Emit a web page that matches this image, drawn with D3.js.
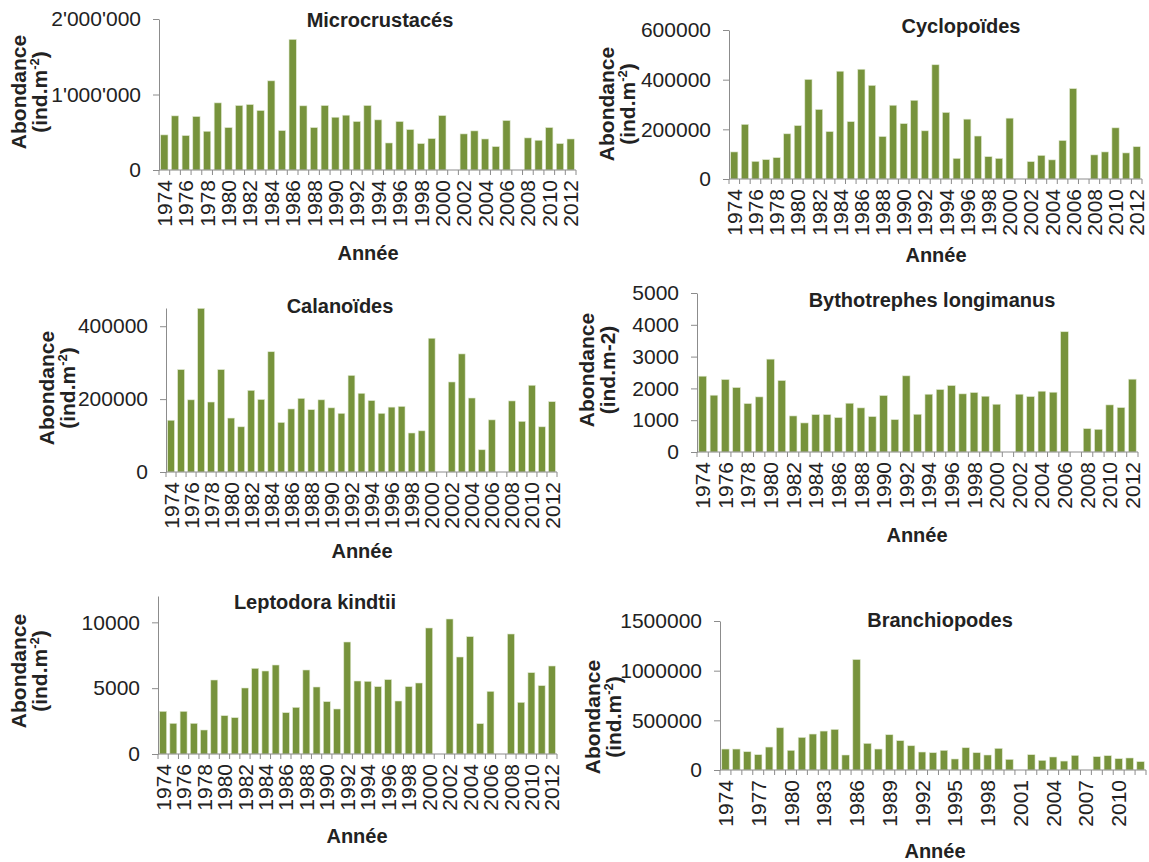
<!DOCTYPE html>
<html>
<head>
<meta charset="utf-8">
<script src="https://cdn.jsdelivr.net/npm/d3@7/dist/d3.min.js"></script>
<style>
  body { margin: 0; background: #fff; }
  svg text { font-family: "Liberation Sans", Arial, sans-serif; fill: #222; }
</style>
</head>
<body>
<svg id="fig" width="1149" height="862"></svg>
<script>
// Years of the series (2001 and 2007 have no sample)
const years = [1974, 1975, 1976, 1977, 1978, 1979, 1980, 1981, 1982, 1983,
               1984, 1985, 1986, 1987, 1988, 1989, 1990, 1991, 1992, 1993,
               1994, 1995, 1996, 1997, 1998, 1999, 2000, 2001, 2002, 2003,
               2004, 2005, 2006, 2007, 2008, 2009, 2010, 2011, 2012];

// Abundance, ind. per m2
const microcrustaces = [465000, 717000, 456000, 708000, 513000, 889000, 562000, 854000, 867000, 788000,
                        1181000, 522000, 1730000, 850000, 562000, 854000, 699000, 726000, 642000, 854000,
                        664000, 358000, 642000, 535000, 350000, 416000, 721000, null, 478000, 518000,
                        411000, 310000, 655000, null, 425000, 394000, 562000, 350000, 411000];

const cyclopoides = [109000, 220000, 71000, 78000, 86000, 182000, 215000, 401000, 280000, 191000,
                     434000, 231000, 442000, 377000, 171000, 297000, 223000, 317000, 194000, 460000,
                     268000, 83000, 241000, 173000, 90000, 83000, 245000, null, 70000, 95000,
                     77000, 155000, 364000, null, 97000, 109000, 206000, 105000, 130000];

const calanoides = [142000, 281000, 198000, 449000, 192000, 281000, 148000, 124000, 224000, 199000,
                    330000, 136000, 173000, 202000, 171000, 198000, 176000, 161000, 265000, 216000,
                    196000, 161000, 178000, 180000, 107000, 113000, 367000, null, 247000, 324000,
                    203000, 61000, 143000, null, 195000, 139000, 238000, 124000, 193000];

const bythotrephes = [2384, 1786, 2279, 2027, 1523, 1733, 2920, 2248, 1134, 914,
                      1176, 1176, 1082, 1534, 1387, 1113, 1775, 1019, 2395, 1187,
                      1817, 1964, 2090, 1828, 1870, 1754, 1502, null, 1817, 1744,
                      1912, 1880, 3782, null, 735, 714, 1481, 1397, 2290];

const leptodora = [3240, 2329, 3240, 2329, 1823, 5620, 2911, 2760, 5013, 6506,
                   6304, 6759, 3139, 3544, 6380, 5089, 3975, 3418, 8506, 5544,
                   5519, 5114, 5646, 4025, 5114, 5392, 9570, null, 10253, 7367,
                   8911, 2304, 4759, null, 9114, 3924, 6177, 5190, 6684];

const branchiopodes = [211000, 211000, 184000, 154000, 231000, 425000, 198000, 328000, 362000, 392000,
                       409000, 151000, 1112000, 268000, 211000, 355000, 295000, 244000, 181000, 174000,
                       198000, 111000, 224000, 174000, 151000, 218000, 107000, null, 154000, 97000,
                       131000, 90000, 147000, null, 134000, 144000, 114000, 121000, 84000];

// Y tick values per panel
const ticksMicro = [0, 1000000, 2000000];
const ticksCyclo = [0, 200000, 400000, 600000];
const ticksCala = [0, 200000, 400000];
const ticksBytho = [0, 1000, 2000, 3000, 4000, 5000];
const ticksLepto = [0, 5000, 10000];
const ticksBranchio = [0, 500000, 1000000, 1500000];

const swissFmt = v => d3.format(",")(v).replace(/,/g, "'");
const plainFmt = v => String(v);

const panels = [
  { title: "Microcrustacés", values: microcrustaces, max: 2000000, ticks: ticksMicro, fmt: swissFmt, sup: true, every: 2,
    x0: 159, x1: 576, yZero: 170, yTop: 19, titleX: 380, titleY: 27, anneeX: 368, anneeY: 260,
    ytX: 26, ytY: 92 },
  { title: "Cyclopoïdes", values: cyclopoides, max: 600000, ticks: ticksCyclo, fmt: plainFmt, sup: true, every: 2,
    x0: 729, x1: 1142, yZero: 179, yTop: 30, titleX: 961, titleY: 33, anneeX: 936, anneeY: 262,
    ytX: 614, ytY: 104 },
  { title: "Calanoïdes", values: calanoides, max: 450000, ticks: ticksCala, fmt: plainFmt, sup: true, every: 2,
    x0: 166, x1: 557, yZero: 472, yTop: 308, titleX: 340, titleY: 313, anneeX: 362, anneeY: 558,
    ytX: 54, ytY: 388 },
  { title: "Bythotrephes longimanus", values: bythotrephes, max: 5000, ticks: ticksBytho, fmt: plainFmt, sup: false, every: 2,
    x0: 697, x1: 1138, yZero: 452, yTop: 293, titleX: 932, titleY: 307, anneeX: 917, anneeY: 542,
    ytX: 594, ytY: 370 },
  { title: "Leptodora kindtii", values: leptodora, max: 12000, ticks: ticksLepto, fmt: plainFmt, sup: true, every: 2,
    x0: 158, x1: 557, yZero: 754, yTop: 596, titleX: 315, titleY: 609, anneeX: 357, anneeY: 843,
    ytX: 26, ytY: 671 },
  { title: "Branchiopodes", values: branchiopodes, max: 1500000, ticks: ticksBranchio, fmt: plainFmt, sup: true, every: 3,
    x0: 720, x1: 1146, yZero: 770, yTop: 621, titleX: 940, titleY: 627, anneeX: 935, anneeY: 858,
    ytX: 600, ytY: 717 }
];

const svg = d3.select("#fig");
const axisColor = "#8c8c8c";
const barColor = "#77933c";

panels.forEach(p => {
  const g = svg.append("g");
  const x = d3.scaleBand().domain(years).range([p.x0, p.x1]).paddingInner(0.32).paddingOuter(0.16);
  const y = d3.scaleLinear().domain([0, p.max]).range([p.yZero, p.yTop]);

  // bars
  const rows = years.map((yr, i) => ({ year: yr, value: p.values[i] })).filter(d => d.value !== null);
  g.selectAll("rect.bar").data(rows).join("rect")
    .attr("class", "bar")
    .attr("x", d => x(d.year))
    .attr("width", x.bandwidth())
    .attr("y", d => y(d.value))
    .attr("height", d => y(0) - y(d.value))
    .attr("fill", barColor)
    .attr("stroke", "#dfe8cf")
    .attr("stroke-width", 0.6);

  // y axis
  const ya = g.append("g").attr("transform", `translate(${p.x0},0)`)
    .call(d3.axisLeft(y).tickValues(p.ticks).tickFormat(p.fmt).tickSizeInner(6).tickSizeOuter(0).tickPadding(12));
  ya.select(".domain").attr("stroke", axisColor);
  ya.selectAll(".tick line").attr("stroke", axisColor);
  ya.selectAll(".tick text").attr("font-size", 21).attr("fill", "#222");

  // x axis baseline with ticks between categories
  const step = x.step();
  const bounds = years.map(yr => x(yr) - step * 0.16).concat([p.x1]);
  g.append("line").attr("x1", p.x0).attr("x2", p.x1).attr("y1", p.yZero).attr("y2", p.yZero)
    .attr("stroke", axisColor);
  g.selectAll("line.xt").data(bounds).join("line").attr("class", "xt")
    .attr("x1", d => d).attr("x2", d => d).attr("y1", p.yZero).attr("y2", p.yZero + 5)
    .attr("stroke", axisColor);

  // x tick labels (rotated)
  const labelled = years.filter((yr, i) => i % p.every === 0);
  g.selectAll("text.xl").data(labelled).join("text").attr("class", "xl")
    .attr("transform", d => `translate(${x(d) + x.bandwidth() / 2},${p.yZero + 10}) rotate(-90)`)
    .attr("text-anchor", "end")
    .attr("dy", "0.36em")
    .attr("font-size", 21)
    .text(d => d);

  // title
  g.append("text").attr("x", p.titleX).attr("y", p.titleY).attr("text-anchor", "middle")
    .attr("font-size", 20).attr("font-weight", "bold").text(p.title);

  // x axis title
  g.append("text").attr("x", p.anneeX).attr("y", p.anneeY).attr("text-anchor", "middle")
    .attr("font-size", 20).attr("font-weight", "bold").text("Année");

  // y axis title, two lines
  const yt = g.append("g").attr("transform", `translate(${p.ytX},${p.ytY}) rotate(-90)`);
  yt.append("text").attr("text-anchor", "middle").attr("font-size", 21).attr("font-weight", "bold")
    .text("Abondance");
  const l2 = yt.append("text").attr("text-anchor", "middle").attr("y", 21)
    .attr("font-size", 21).attr("font-weight", "bold");
  if (p.sup) {
    l2.append("tspan").text("(ind.m");
    l2.append("tspan").attr("font-size", 13).attr("dy", -8).text("-2");
    l2.append("tspan").attr("dy", 8).text(")");
  } else {
    l2.text("(ind.m-2)");
  }
});
</script>
</body>
</html>
